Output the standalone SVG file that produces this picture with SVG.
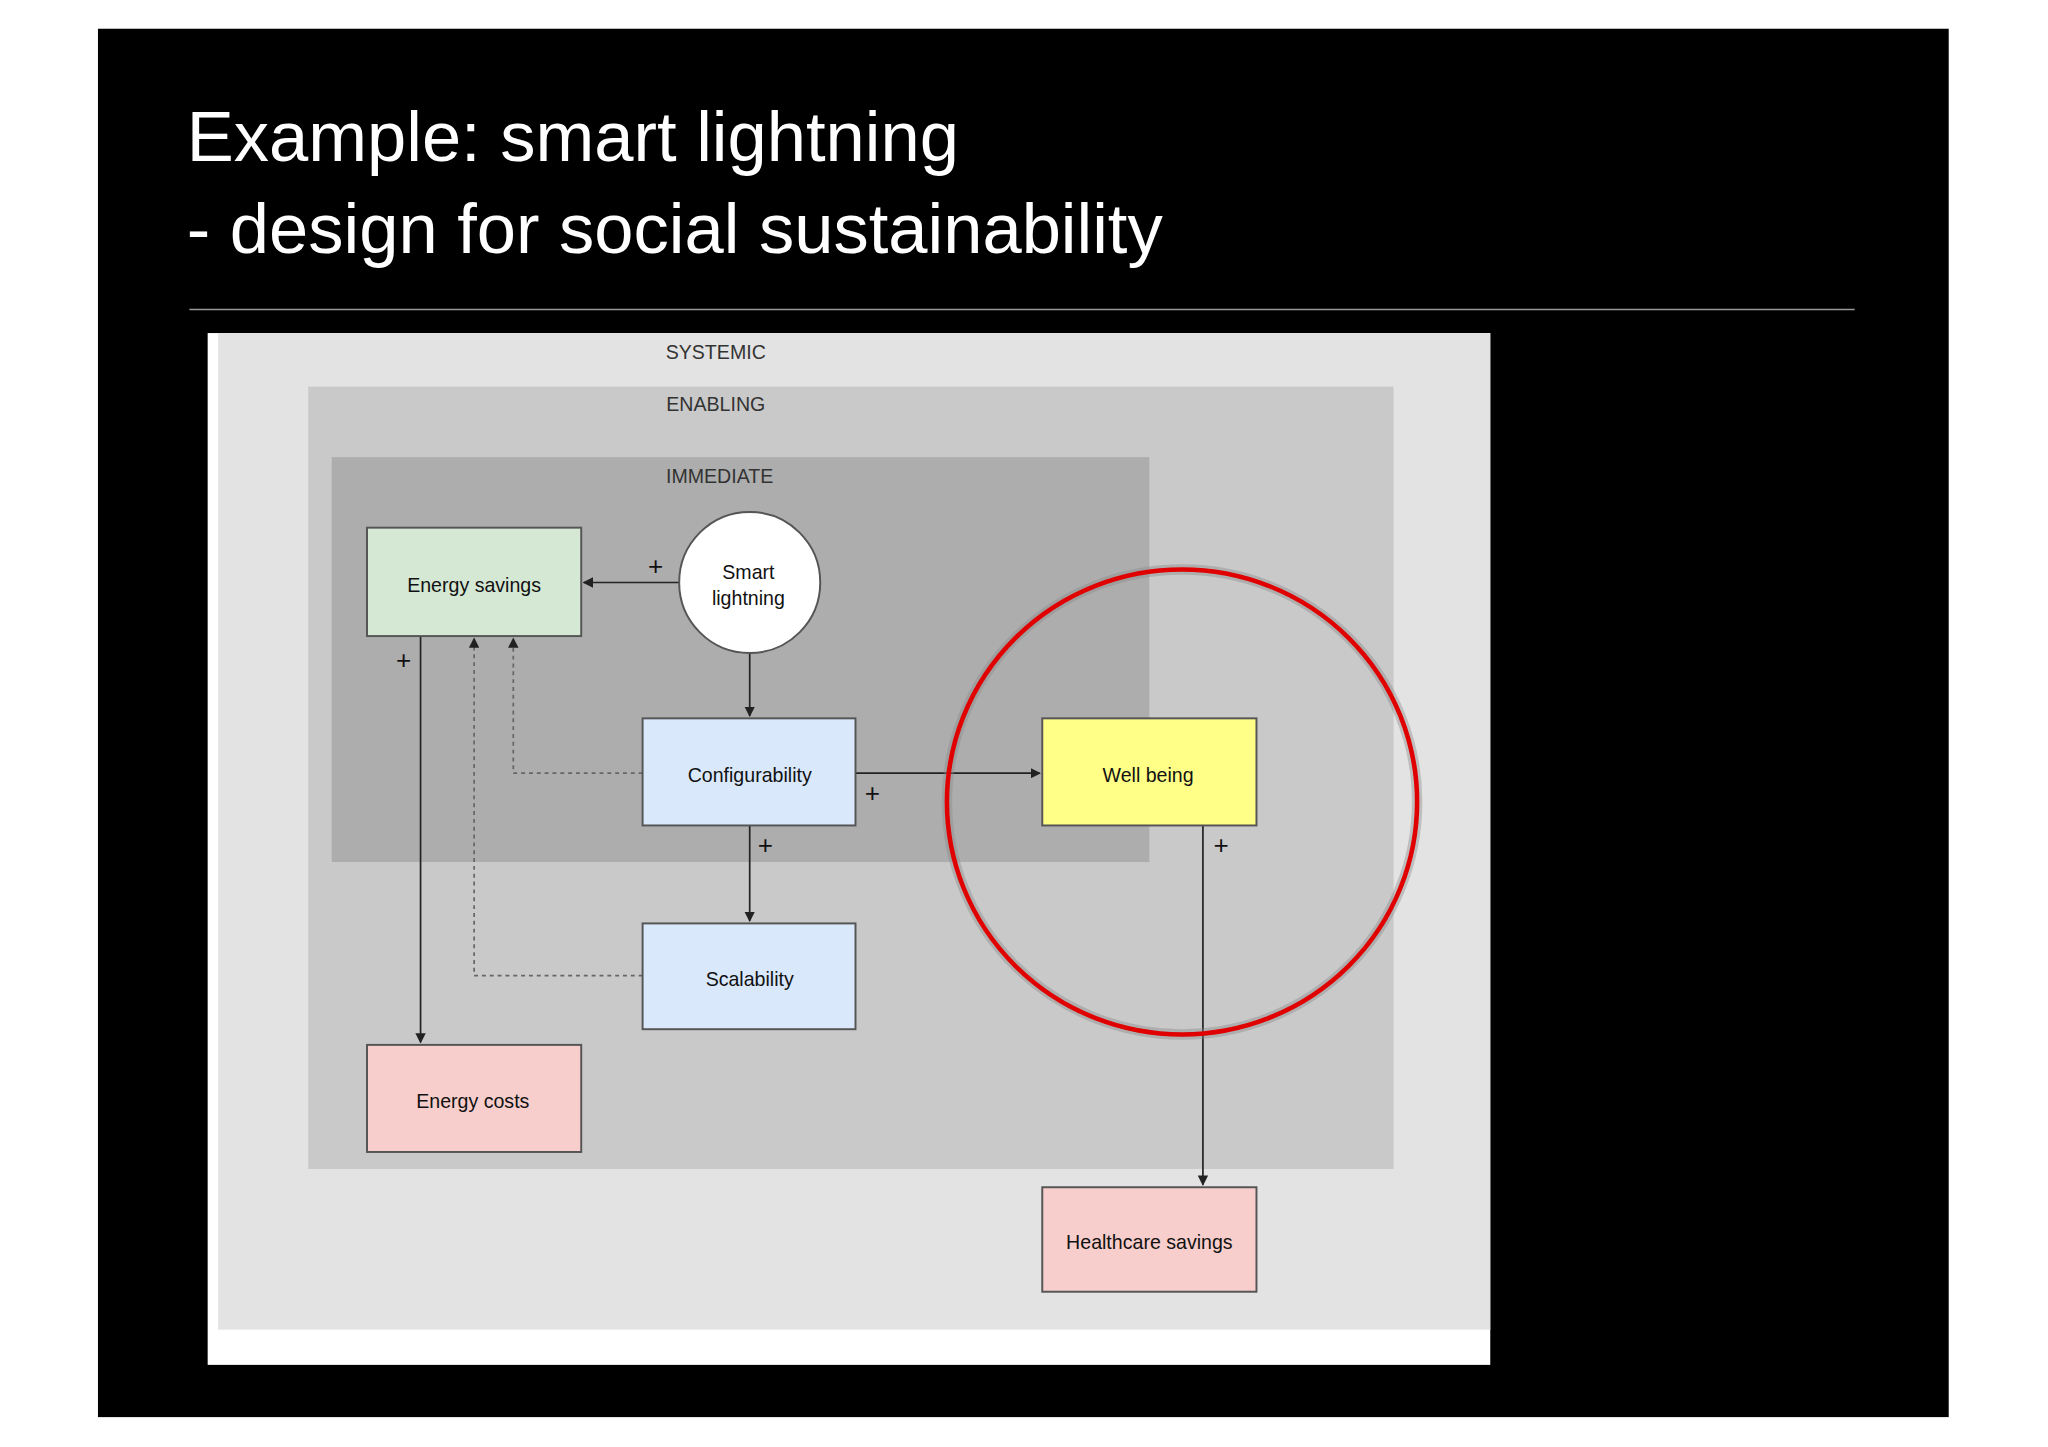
<svg xmlns="http://www.w3.org/2000/svg" width="2048" height="1447" viewBox="0 0 2048 1447">
<style>
.t{font-family:"Liberation Sans",Arial,sans-serif;fill:#111;font-size:15px;text-anchor:middle}
.h{font-family:"Liberation Sans",Arial,sans-serif;fill:#333;font-size:15px;text-anchor:middle}
.p{font-family:"Liberation Sans",Arial,sans-serif;fill:#111;font-size:20px;text-anchor:middle}
.b{stroke:#555;stroke-width:1.5}
.c line,.c path{stroke:#222;stroke-width:1.3;fill:none}
.c .d{stroke:#666;stroke-dasharray:3,3}
</style>
<defs><marker id="a" markerWidth="8" markerHeight="8" refX="7" refY="4" orient="auto" markerUnits="userSpaceOnUse"><path d="M0,0 L8,4 L0,8 Z" fill="#222"/></marker></defs>
<rect width="2048" height="1447" fill="#fff"/>
<g transform="scale(1.3061)">
<rect x="75" y="22" width="1417" height="1063" fill="#000"/>
<text x="143" y="123" font-family="Liberation Sans,Arial,sans-serif" font-size="54" fill="#fff">Example: smart lightning</text>
<text x="143" y="194" font-family="Liberation Sans,Arial,sans-serif" font-size="54" fill="#fff">- design for social sustainability</text>
<line x1="145" y1="237" x2="1420" y2="237" stroke="#999" stroke-width="1.2"/>
<rect x="159" y="255" width="982" height="790" fill="#fff"/>
<rect x="167" y="255" width="974" height="763" fill="#e3e3e3"/>
<text class="h" x="548" y="275">SYSTEMIC</text>
<rect x="236" y="296" width="831" height="599" fill="#c9c9c9"/>
<text class="h" x="548" y="315">ENABLING</text>
<rect x="254" y="350" width="626" height="310" fill="#adadad"/>
<text class="h" x="551" y="370">IMMEDIATE</text>
<g class="c" id="connectors">
<line x1="520" y1="446" x2="447" y2="446" marker-end="url(#a)"/>
<line x1="574" y1="500" x2="574" y2="548" marker-end="url(#a)"/>
<line x1="655" y1="592" x2="796" y2="592" marker-end="url(#a)"/>
<line x1="574" y1="632" x2="574" y2="705" marker-end="url(#a)"/>
<line x1="322" y1="487" x2="322" y2="798" marker-end="url(#a)"/>
<path class="d" d="M492,592 H393 V489" marker-end="url(#a)"/>
<path class="d" d="M492,747 H363 V489" marker-end="url(#a)"/>
<line x1="921" y1="632" x2="921" y2="907" marker-end="url(#a)"/>
<text class="p" x="502" y="440">+</text>
<text class="p" x="668" y="614">+</text>
<text class="p" x="586" y="654">+</text>
<text class="p" x="309" y="512">+</text>
<text class="p" x="935" y="654">+</text>
</g>
<g id="energy-savings"><rect class="b" x="281" y="404" width="164" height="83" fill="#d5e8d4"/><text class="t" x="363" y="453">Energy savings</text></g>
<g id="smart-lightning"><circle class="b" cx="574" cy="446" r="54" fill="#fff"/><text class="t" x="573" y="443">Smart</text><text class="t" x="573" y="463">lightning</text></g>
<g id="configurability"><rect class="b" x="492" y="550" width="163" height="82" fill="#dae8fc"/><text class="t" x="574" y="599">Configurability</text></g>
<g id="well-being"><rect class="b" x="798" y="550" width="164" height="82" fill="#ffff88"/><text class="t" x="879" y="599">Well being</text></g>
<g id="scalability"><rect class="b" x="492" y="707" width="163" height="81" fill="#dae8fc"/><text class="t" x="574" y="755">Scalability</text></g>
<g id="energy-costs"><rect class="b" x="281" y="800" width="164" height="82" fill="#f8cecc"/><text class="t" x="362" y="848">Energy costs</text></g>
<g id="healthcare-savings"><rect class="b" x="798" y="909" width="164" height="80" fill="#f8cecc"/><text class="t" x="880" y="956">Healthcare savings</text></g>
<ellipse cx="905" cy="614" rx="180" ry="178" fill="none" stroke="#888" stroke-width="8" opacity="0.4"/>
<ellipse cx="905" cy="614" rx="180" ry="178" fill="none" stroke="#e00000" stroke-width="3.5"/>
</g>
</svg>
